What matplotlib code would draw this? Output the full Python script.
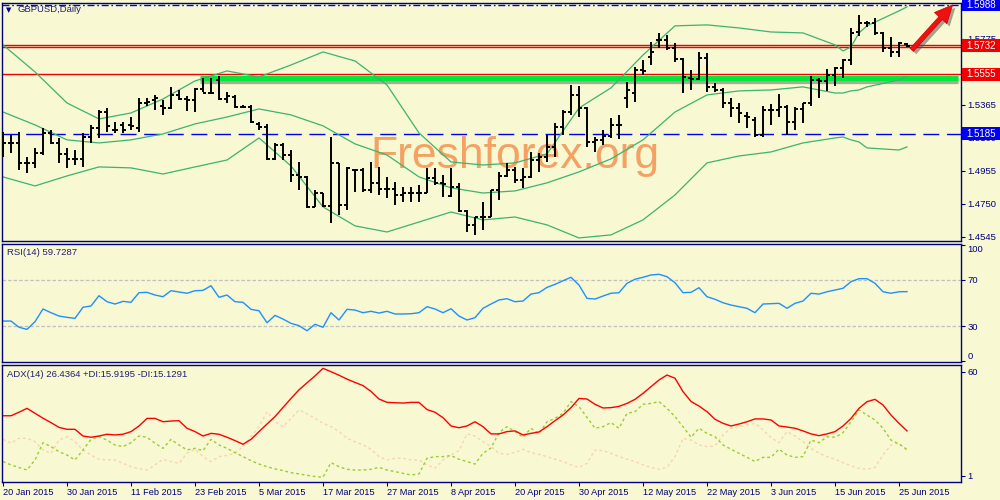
import matplotlib
matplotlib.use('Agg')
import matplotlib.pyplot as plt
import matplotlib.patheffects as pe
import matplotlib.transforms as mtransforms
from matplotlib.patches import Rectangle
import numpy as np

plt.rcParams['font.family'] = ['Liberation Sans', 'DejaVu Sans']
plt.rcParams['lines.scale_dashes'] = False

BG = '#F8F8D2'
NAVY = '#000080'

# GBPUSD daily bars, 20 Jan 2015 .. 26 Jun 2015
bar_high = [1.5197, 1.5179, 1.5197, 1.5042, 1.5098, 1.5222, 1.5210, 1.5160, 1.5098, 1.5085,
            1.5191, 1.5241, 1.5334, 1.5346, 1.5259, 1.5259, 1.5290, 1.5408, 1.5408, 1.5427,
            1.5396, 1.5477, 1.5458, 1.5421, 1.5471, 1.5533, 1.5533, 1.5545, 1.5446, 1.5427,
            1.5365, 1.5365, 1.5259, 1.5247, 1.5129, 1.5129, 1.5085, 1.5011, 1.4924, 1.4837,
            1.4818, 1.5166, 1.5005, 1.4980, 1.4968, 1.4974, 1.5011, 1.4980, 1.4918, 1.4887,
            1.4856, 1.4856, 1.4868, 1.4974, 1.4974, 1.4930, 1.4974, 1.4881, 1.4713, 1.4669,
            1.4763, 1.4837, 1.4949, 1.5005, 1.4980, 1.4974, 1.5073, 1.5067, 1.5179, 1.5253,
            1.5334, 1.5489, 1.5483, 1.5353, 1.5166, 1.5210, 1.5284, 1.5303, 1.5508, 1.5601,
            1.5644, 1.5756, 1.5812, 1.5800, 1.5750, 1.5657, 1.5582, 1.5694, 1.5688, 1.5502,
            1.5471, 1.5408, 1.5377, 1.5321, 1.5290, 1.5359, 1.5371, 1.5433, 1.5365, 1.5353,
            1.5377, 1.5545, 1.5533, 1.5589, 1.5601, 1.5651, 1.5843, 1.5924, 1.5887, 1.5905,
            1.5818, 1.5787, 1.5756, 1.5750]
bar_low = [1.5042, 1.5067, 1.4961, 1.4943, 1.4974, 1.5054, 1.5123, 1.5005, 1.4974, 1.4992,
           1.4980, 1.5129, 1.5160, 1.5197, 1.5191, 1.5191, 1.5210, 1.5197, 1.5359, 1.5334,
           1.5303, 1.5340, 1.5396, 1.5328, 1.5321, 1.5446, 1.5439, 1.5396, 1.5377, 1.5346,
           1.5346, 1.5253, 1.5210, 1.5023, 1.5023, 1.5023, 1.4887, 1.4837, 1.4725, 1.4732,
           1.4732, 1.4632, 1.4682, 1.4713, 1.4825, 1.4825, 1.4818, 1.4806, 1.4787, 1.4744,
           1.4763, 1.4763, 1.4763, 1.4818, 1.4868, 1.4794, 1.4794, 1.4700, 1.4576, 1.4558,
           1.4589, 1.4669, 1.4775, 1.4918, 1.4881, 1.4850, 1.4912, 1.4949, 1.5011, 1.5042,
           1.5179, 1.5303, 1.5290, 1.5104, 1.5073, 1.5117, 1.5160, 1.5154, 1.5346, 1.5384,
           1.5551, 1.5613, 1.5719, 1.5706, 1.5632, 1.5439, 1.5458, 1.5520, 1.5446, 1.5446,
           1.5346, 1.5290, 1.5253, 1.5222, 1.5166, 1.5166, 1.5241, 1.5290, 1.5179, 1.5210,
           1.5253, 1.5359, 1.5408, 1.5452, 1.5483, 1.5533, 1.5613, 1.5793, 1.5849, 1.5800,
           1.5694, 1.5663, 1.5663, 1.5725]
bar_open = [1.5129, 1.5129, 1.5129, 1.5005, 1.5005, 1.5067, 1.5191, 1.5129, 1.5061, 1.5030,
            1.5030, 1.5166, 1.5222, 1.5321, 1.5210, 1.5241, 1.5241, 1.5222, 1.5377, 1.5396,
            1.5359, 1.5346, 1.5427, 1.5402, 1.5396, 1.5464, 1.5439, 1.5520, 1.5402, 1.5415,
            1.5353, 1.5353, 1.5247, 1.5228, 1.5030, 1.5117, 1.5054, 1.4930, 1.4918, 1.4732,
            1.4818, 1.4738, 1.5005, 1.4744, 1.4961, 1.4961, 1.4837, 1.4881, 1.4843, 1.4843,
            1.4806, 1.4818, 1.4818, 1.4818, 1.4912, 1.4881, 1.4800, 1.4856, 1.4707, 1.4620,
            1.4669, 1.4669, 1.4837, 1.4924, 1.4961, 1.4899, 1.4918, 1.5023, 1.5042, 1.5104,
            1.5228, 1.5321, 1.5427, 1.5346, 1.5135, 1.5148, 1.5172, 1.5241, 1.5408, 1.5439,
            1.5582, 1.5663, 1.5769, 1.5769, 1.5719, 1.5651, 1.5533, 1.5526, 1.5657, 1.5477,
            1.5458, 1.5377, 1.5346, 1.5297, 1.5272, 1.5179, 1.5334, 1.5334, 1.5353, 1.5259,
            1.5340, 1.5377, 1.5520, 1.5514, 1.5551, 1.5595, 1.5644, 1.5818, 1.5874, 1.5874,
            1.5812, 1.5719, 1.5694, 1.5744]
bar_close = [1.5129, 1.5129, 1.5005, 1.5005, 1.5067, 1.5191, 1.5129, 1.5061, 1.5030, 1.5030,
             1.5166, 1.5222, 1.5321, 1.5235, 1.5210, 1.5210, 1.5235, 1.5377, 1.5384, 1.5408,
             1.5346, 1.5427, 1.5402, 1.5396, 1.5464, 1.5439, 1.5439, 1.5402, 1.5421, 1.5353,
             1.5353, 1.5259, 1.5228, 1.5030, 1.5117, 1.5054, 1.4930, 1.4918, 1.4732, 1.4818,
             1.4738, 1.5005, 1.4744, 1.4974, 1.4961, 1.4837, 1.4881, 1.4843, 1.4843, 1.4806,
             1.4818, 1.4818, 1.4818, 1.4912, 1.4881, 1.4874, 1.4856, 1.4707, 1.4620, 1.4669,
             1.4669, 1.4837, 1.4924, 1.4961, 1.4899, 1.4918, 1.5023, 1.5042, 1.5104, 1.5228,
             1.5321, 1.5427, 1.5346, 1.5135, 1.5148, 1.5172, 1.5241, 1.5241, 1.5458, 1.5582,
             1.5576, 1.5694, 1.5769, 1.5719, 1.5651, 1.5539, 1.5526, 1.5657, 1.5477, 1.5458,
             1.5377, 1.5346, 1.5315, 1.5290, 1.5179, 1.5334, 1.5334, 1.5353, 1.5259, 1.5340,
             1.5377, 1.5520, 1.5514, 1.5551, 1.5595, 1.5644, 1.5812, 1.5874, 1.5874, 1.5812,
             1.5719, 1.5694, 1.5750, 1.5731]

date_labels = ['20 Jan 2015', '30 Jan 2015', '11 Feb 2015', '23 Feb 2015', '5 Mar 2015',
               '17 Mar 2015', '27 Mar 2015', '8 Apr 2015', '20 Apr 2015', '30 Apr 2015',
               '12 May 2015', '22 May 2015', '3 Jun 2015', '15 Jun 2015', '25 Jun 2015']
bars_per_label = 8

# Bollinger bands (20, 2), read at these bar numbers
bb_idx = [0, 4, 8, 12, 16, 20, 24, 28, 32, 36, 40, 44, 48, 52, 56, 60, 64, 68, 72, 76,
          80, 84, 88, 92, 96, 100, 104, 105, 106, 107, 108, 112, 113]
bb_upper = [1.5738, 1.5570, 1.5377, 1.5278, 1.5315, 1.5402, 1.5514, 1.5576, 1.5539, 1.5613,
            1.5694, 1.5638, 1.5489, 1.5191, 1.5011, 1.4992, 1.5005, 1.5061, 1.5346, 1.5471,
            1.5675, 1.5856, 1.5862, 1.5843, 1.5818, 1.5812, 1.5738, 1.5700, 1.5725, 1.5812,
            1.5856, 1.5949, 1.5974]
bb_mid = [1.5321, 1.5241, 1.5148, 1.5129, 1.5148, 1.5185, 1.5247, 1.5290, 1.5340, 1.5303,
          1.5235, 1.5123, 1.5054, 1.4918, 1.4850, 1.4818, 1.4831, 1.4881, 1.4949, 1.5030,
          1.5148, 1.5321, 1.5427, 1.5452, 1.5458, 1.5477, 1.5439, 1.5439, 1.5452, 1.5458,
          1.5477, 1.5520, 1.5539]
bb_lower = [1.4918, 1.4862, 1.4924, 1.4980, 1.4974, 1.4936, 1.4980, 1.5023, 1.5160, 1.4986,
            1.4732, 1.4614, 1.4576, 1.4638, 1.4700, 1.4651, 1.4669, 1.4620, 1.4539, 1.4558,
            1.4651, 1.4806, 1.5005, 1.5048, 1.5073, 1.5129, 1.5160, 1.5166, 1.5148, 1.5135,
            1.5098, 1.5085, 1.5104]

rsi = [34.3, 34.3, 28.9, 27.1, 33.7, 44.7, 41.5, 38.6, 37.5, 36.6,
       46.2, 47.3, 56.2, 51.0, 49.0, 51.3, 50.5, 58.8, 59.1, 56.8,
       55.3, 60.5, 59.4, 58.3, 60.5, 60.8, 64.8, 54.8, 56.8, 51.0,
       50.5, 44.4, 43.2, 32.8, 39.2, 36.0, 32.3, 30.3, 25.9, 31.5,
       28.9, 41.5, 35.2, 44.4, 43.8, 41.5, 42.7, 41.2, 42.7, 40.4,
       40.4, 40.6, 41.5, 46.7, 44.7, 41.5, 44.9, 38.6, 35.2, 37.2,
       45.3, 49.0, 52.5, 53.6, 51.0, 51.6, 57.6, 58.8, 63.4, 66.0,
       69.1, 72.1, 65.4, 53.9, 53.3, 55.9, 58.3, 58.8, 66.9, 70.4,
       72.1, 74.1, 74.7, 72.6, 67.4, 58.8, 59.1, 63.1, 55.3, 53.1,
       50.1, 48.1, 46.7, 45.3, 41.5, 49.0, 49.3, 49.6, 45.3, 49.6,
       51.6, 58.3, 57.6, 59.6, 61.1, 62.6, 68.3, 70.9, 70.9, 66.9,
       59.6, 58.3, 59.6, 59.7]

adx = [35.0, 35.0, 37.0, 39.2, 36.4, 33.6, 31.1, 28.4, 27.3, 27.3,
       23.5, 22.8, 23.5, 24.5, 24.1, 24.5, 26.0, 29.2, 33.5, 33.5,
       31.6, 32.0, 32.2, 27.9, 26.0, 23.5, 25.0, 24.5, 22.8, 20.9,
       18.8, 21.6, 26.0, 30.3, 34.5, 39.7, 44.8, 49.7, 53.7, 57.6,
       61.9, 60.0, 58.0, 55.8, 53.9, 52.1, 48.8, 44.5, 42.6, 42.4,
       42.2, 42.6, 42.6, 38.5, 37.0, 33.9, 29.2, 28.2, 29.2, 31.6,
       28.8, 24.7, 24.7, 26.0, 26.4, 24.1, 25.0, 25.8, 28.8, 32.2,
       35.4, 39.6, 44.8, 44.5, 41.5, 39.4, 39.6, 40.3, 42.0, 44.3,
       47.7, 51.5, 55.3, 58.1, 56.3, 48.7, 43.1, 40.5, 37.3, 33.0,
       30.7, 29.2, 30.3, 31.6, 33.2, 33.2, 32.6, 29.2, 28.6, 27.9,
       26.4, 24.7, 23.7, 24.7, 26.0, 29.2, 33.5, 39.2, 43.0, 44.3,
       41.1, 35.4, 30.7, 26.4]
plus_di = [9.0, 7.1, 5.6, 4.2, 9.9, 19.7, 17.5, 14.6, 12.7, 9.9,
           15.6, 21.6, 23.1, 21.2, 18.4, 17.5, 19.7, 23.5, 22.8, 19.4,
           16.5, 21.6, 18.4, 15.6, 16.5, 15.2, 21.6, 18.4, 16.5, 14.1,
           11.8, 9.5, 7.6, 6.1, 4.8, 3.9, 2.7, 2.0, 1.2, 0.5,
           0.1, 8.4, 6.1, 4.6, 4.2, 4.2, 4.6, 5.7, 4.2, 3.3,
           2.3, 1.4, 2.0, 10.9, 11.8, 11.8, 12.4, 10.3, 9.0, 7.6,
           13.7, 16.7, 25.4, 28.8, 26.0, 22.8, 27.9, 24.7, 31.6, 33.5,
           36.4, 43.0, 40.2, 34.1, 27.9, 28.8, 31.1, 27.9, 36.4, 37.3,
           41.5, 42.0, 43.0, 39.2, 34.5, 28.8, 22.8, 27.9, 25.0, 23.1,
           18.4, 16.0, 13.7, 11.4, 9.0, 11.4, 11.4, 16.0, 12.7, 11.4,
           11.8, 21.2, 19.7, 23.1, 22.8, 25.4, 31.6, 38.3, 35.4, 32.6,
           27.9, 21.2, 19.0, 15.9]
minus_di = [21.6, 19.4, 22.2, 22.2, 20.3, 15.6, 13.7, 21.2, 23.1, 20.3,
            15.6, 12.7, 10.3, 10.0, 9.9, 8.0, 6.1, 5.0, 4.2, 7.1,
            10.3, 9.0, 8.0, 13.7, 16.0, 11.8, 9.0, 11.8, 12.5, 13.7,
            17.5, 23.1, 28.8, 37.3, 31.6, 28.8, 33.5, 38.3, 36.0, 33.5,
            30.7, 28.8, 26.0, 22.2, 20.3, 18.4, 16.0, 11.8, 9.9, 10.9,
            10.9, 9.9, 9.9, 7.1, 5.2, 9.9, 12.7, 15.2, 24.7, 23.5,
            20.3, 17.5, 13.7, 13.1, 14.1, 16.0, 14.1, 13.1, 11.8, 10.3,
            9.0, 7.1, 5.7, 8.0, 15.6, 15.2, 13.7, 11.8, 10.3, 9.0,
            7.1, 5.7, 4.6, 5.7, 11.8, 22.2, 21.2, 18.4, 17.5, 17.8,
            24.1, 27.9, 28.8, 29.8, 30.7, 26.9, 22.6, 19.7, 26.0, 23.5,
            20.3, 16.5, 13.7, 11.8, 10.3, 8.4, 6.5, 5.2, 4.6, 5.7,
            12.7, 18.4, 19.4, 15.1]

price_ticks = [1.4545, 1.4750, 1.4955, 1.5160, 1.5365, 1.5570, 1.5775, 1.5980]
hidden_ticks = [1.5570, 1.5980]   # fully covered by the level boxes
target_level = 1.5988
resist_levels = [1.5738, 1.5726]
red_level = 1.5555
support_level = 1.5185
green_zone = 1.5533
green_from_bar = 24.6
box_labels = [(1.5988, '#0000F0'), (1.5732, '#F00000'), (1.5555, '#F00000'), (1.5185, '#0000F0')]
arrow_from = (113.6, 1.5707)
arrow_to = (118.7, 1.5986)

n = len(bar_close)
x = np.arange(n)
xlim = (-0.125, 119.75)

fig = plt.figure(figsize=(10, 5), dpi=100, facecolor=BG)
ax_p = fig.add_axes([0.002, 0.518, 0.959, 0.477])
ax_r = fig.add_axes([0.002, 0.276, 0.959, 0.237])
ax_a = fig.add_axes([0.002, 0.036, 0.959, 0.234])

for ax in (ax_p, ax_r, ax_a):
    ax.set_facecolor(BG)
    ax.set_xlim(*xlim)
    for s in ax.spines.values():
        s.set_color(NAVY)
        s.set_linewidth(1.0)
    ax.yaxis.tick_right()
    ax.tick_params(axis='y', colors=NAVY, length=3, width=0.8, labelsize=6.8, pad=1.5)
    ax.tick_params(axis='x', bottom=False, labelbottom=False)

# ---- price panel
ax_p.set_ylim(1.4520, 1.6001)
ax_p.text(0.535, 0.306, 'Freshforex.org', transform=ax_p.transAxes, fontsize=32,
          color='#F4A264', ha='center', va='baseline', zorder=0.5)

ax_p.axhline(target_level, color='#0000F0', lw=1, dashes=(5, 2, 1.2, 2), zorder=1)
for v in resist_levels:
    ax_p.axhline(v, color='#F00000', lw=1, zorder=1)
ax_p.axhline(red_level, color='#F00000', lw=1, zorder=1)
ax_p.axhline(support_level, color='#0000F0', lw=1, dashes=(11.5, 5.5), zorder=1)
ax_p.hlines(green_zone, green_from_bar, xlim[1] - 0.35, color='#00E83C', lw=3.8, zorder=1.2,
            path_effects=[pe.SimpleLineShadow(offset=(0, -2.5), shadow_color='0.3', alpha=0.45),
                          pe.Normal()])

for band in (bb_upper, bb_mid, bb_lower):
    ax_p.plot(bb_idx, band, color='#3CB371', lw=0.9, zorder=2)

ax_p.vlines(x, bar_low, bar_high, color='black', lw=1.4, zorder=3)
ax_p.hlines(bar_open, x - 0.4, x, color='black', lw=1.4, zorder=3)
ax_p.hlines(bar_close, x, x + 0.4, color='black', lw=1.4, zorder=3)

ax_p.set_yticks(price_ticks)
ax_p.set_yticklabels(['' if v in hidden_ticks else '%.4f' % v for v in price_ticks])

trans = mtransforms.blended_transform_factory(ax_p.transAxes, ax_p.transData)
box_h = 0.0081
for val, col in box_labels:
    ax_p.add_patch(Rectangle((1.0012, val - box_h / 2), 0.04, box_h, transform=trans,
                             facecolor=col, edgecolor='none', clip_on=False, zorder=10))
    ax_p.text(1.0052, val, '%.4f' % val, transform=trans, color='white', fontsize=7,
              ha='left', va='center', zorder=11, clip_on=False)

ax_p.annotate('', xy=arrow_to, xytext=arrow_from, annotation_clip=False, zorder=6,
              arrowprops=dict(arrowstyle='simple,head_length=1.6,head_width=1.5,tail_width=0.4',
                              mutation_scale=8, fc='#F01010', ec='#D00000', lw=0.5,
                              shrinkA=0, shrinkB=0,
                              path_effects=[pe.SimplePatchShadow(offset=(2, -2), shadow_rgbFace='0.3', alpha=0.5),
                                            pe.Normal()]))

ax_p.text(0.0045, 0.969, '\u25bc', transform=ax_p.transAxes, fontsize=5, color=NAVY,
          ha='left', va='center', family=['DejaVu Sans'])
ax_p.text(0.0165, 0.969, 'GBPUSD,Daily', transform=ax_p.transAxes, fontsize=6.8,
          color='#202070', ha='left', va='center')

# ---- RSI panel
ax_r.set_ylim(-1.1, 101.3)
ax_r.axhline(70, color='#C0C0C0', lw=0.9, dashes=(2.5, 1.5))
ax_r.axhline(30, color='#C0C0C0', lw=0.9, dashes=(2.5, 1.5))
ax_r.plot(x, rsi, color='#1E90FF', lw=1.0)
ax_r.set_yticks([100, 70, 30, 0])
ax_r.set_yticklabels(['100', '70', '30', '0'])
rl = ax_r.get_yticklabels()
rl[0].set_va('top')
rl[-1].set_va('bottom')
ax_r.text(0.0052, 0.928, 'RSI(14) 59.7287', transform=ax_r.transAxes, fontsize=6.8,
          color='#202070', ha='left', va='center')

# ---- ADX panel
ax_a.set_ylim(-2.6, 63.8)
ax_a.plot(x, minus_di, color='#F8D3B4', lw=1.0, dashes=(2, 2))
ax_a.plot(x, plus_di, color='#9ACD32', lw=1.0, dashes=(2, 2))
ax_a.plot(x, adx, color='#FF0000', lw=1.0)
ax_a.set_yticks([60, 1])
ax_a.set_yticklabels(['60', '1'])
ax_a.set_xticks(np.arange(0, n, bars_per_label))
ax_a.set_xticklabels(date_labels, ha='left')
ax_a.tick_params(axis='x', bottom=True, labelbottom=True, colors=NAVY, length=3, width=0.8,
                 labelsize=6.6, pad=1.5)
ax_a.text(0.0052, 0.923, 'ADX(14) 26.4364 +DI:15.9195 -DI:15.1291', transform=ax_a.transAxes,
          fontsize=6.8, color='#202070', ha='left', va='center')

fig.savefig('out.png', dpi=100, facecolor=BG)
